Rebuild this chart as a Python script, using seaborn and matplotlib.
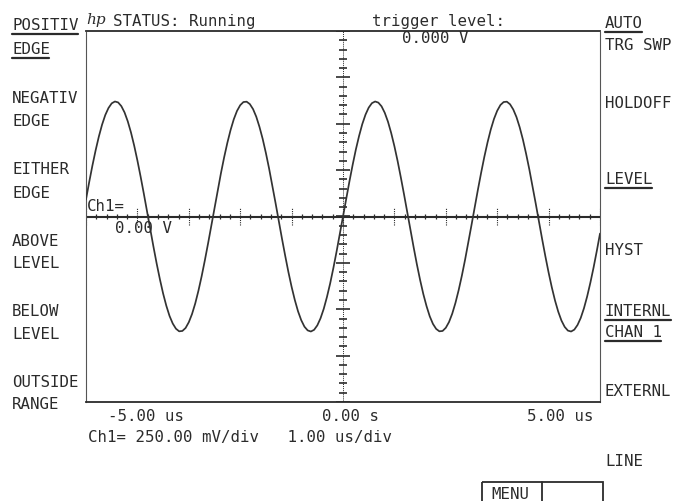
import numpy as np
import pandas as pd
import matplotlib
matplotlib.use("Agg")
import matplotlib.pyplot as plt
from matplotlib.patches import Rectangle
import seaborn as sns

# --- data ---
# Ch1 trace, sampled every 0.0625 us from -5 us to +5 us (volts)
sample_step_us = 0.0625
t_us = np.arange(-80, 81) * sample_step_us
ch1_v = [0.092, 0.186, 0.275, 0.357, 0.431, 0.495, 0.547, 0.585, 0.610, 0.620,
         0.615, 0.595, 0.561, 0.513, 0.453, 0.382, 0.302, 0.215, 0.123, 0.027,
         -0.069, -0.163, -0.254, -0.338, -0.415, -0.481, -0.536, -0.577, -0.605, -0.619,
         -0.617, -0.601, -0.570, -0.526, -0.469, -0.400, -0.322, -0.236, -0.145, -0.050,
         0.046, 0.141, 0.233, 0.319, 0.397, 0.466, 0.524, 0.569, 0.600, 0.617,
         0.619, 0.606, 0.579, 0.538, 0.483, 0.418, 0.342, 0.258, 0.167, 0.073,
         -0.023, -0.119, -0.211, -0.299, -0.379, -0.450, -0.511, -0.559, -0.594, -0.614,
         -0.620, -0.611, -0.587, -0.549, -0.498, -0.434, -0.361, -0.278, -0.189, -0.096,
         0.000,
         0.096, 0.189, 0.278, 0.361, 0.434, 0.498, 0.549, 0.587, 0.611, 0.620,
         0.614, 0.594, 0.559, 0.511, 0.450, 0.379, 0.299, 0.211, 0.119, 0.023,
         -0.073, -0.167, -0.258, -0.342, -0.418, -0.483, -0.538, -0.579, -0.606, -0.619,
         -0.617, -0.600, -0.569, -0.524, -0.466, -0.397, -0.319, -0.233, -0.141, -0.046,
         0.050, 0.145, 0.236, 0.322, 0.400, 0.469, 0.526, 0.570, 0.601, 0.617,
         0.619, 0.605, 0.577, 0.536, 0.481, 0.415, 0.338, 0.254, 0.163, 0.069,
         -0.027, -0.123, -0.215, -0.302, -0.382, -0.453, -0.513, -0.561, -0.595, -0.615,
         -0.620, -0.610, -0.585, -0.547, -0.495, -0.431, -0.357, -0.275, -0.186, -0.092]

volts_per_div = 0.25
us_per_div = 1.0
x_ticklabels = ["-5.00 us", "0.00 s", "5.00 us"]
status_text = "STATUS: Running"
trigger_title = "trigger level:"
trigger_value = "0.000 V"
ch1_ref = ["Ch1=", "0.00 V"]
scale_text = "Ch1= 250.00 mV/div   1.00 us/div"

left_keys = ["POSITIV", "EDGE", "NEGATIV", "EDGE", "EITHER", "EDGE",
             "ABOVE", "LEVEL", "BELOW", "LEVEL", "OUTSIDE", "RANGE"]
right_keys = ["AUTO", "TRG SWP", "HOLDOFF", "LEVEL", "HYST",
              "INTERNL", "CHAN 1", "EXTERNL", "LINE"]
left_selected = [0, 1]          # underlined soft keys on the left
right_selected = [0, 3, 5, 6]   # underlined soft keys on the right

df = pd.DataFrame({"t": t_us, "v": ch1_v})

# --- style ---
sns.set_style("white")
plt.rcParams["font.family"] = ["DejaVu Sans Mono", "DejaVu Sans"]
ink = "#2b2b2b"
fs = 11.3

W, H = 673, 502
fig = plt.figure(figsize=(W / 100, H / 100), dpi=100)

# screen area in pixels: x 86..600, y 32..403
left, right, top, bottom = 86, 600, 32, 403
ax = fig.add_axes([left / W, 1 - bottom / H, (right - left) / W, (bottom - top) / H])
ax.set_xlim(-5 * us_per_div, 5 * us_per_div)
ax.set_ylim(-4 * volts_per_div, 4 * volts_per_div)

sns.lineplot(data=df, x="t", y="v", ax=ax, color="#333333", linewidth=1.25, zorder=3)

# graticule: centre cross with tick marks
ax.axhline(0, color=ink, lw=1.5, zorder=2)
ax.axvline(0, color=ink, lw=0.7, ls=(0, (1, 1)), zorder=2)
yt = np.arange(-4, 4.01, 0.2) * volts_per_div
major_y = np.isclose(np.round(yt / volts_per_div) * volts_per_div, yt)
ax.hlines(yt[~major_y], -0.07, 0.07, color=ink, lw=1.2, zorder=2)
ax.hlines(yt[major_y], -0.14, 0.14, color=ink, lw=1.2, zorder=2)
xt = np.arange(-5, 5.01, 0.2) * us_per_div
major_x = np.isclose(np.round(xt / us_per_div) * us_per_div, xt)
ax.vlines(xt[~major_x], -0.015, 0.015, color=ink, lw=0.9, zorder=2)
ax.vlines(xt[major_x], -0.045, 0.045, color=ink, lw=0.8, ls=(0, (1, 1)), zorder=2)

ax.set_xticks([])
ax.set_yticks([])
ax.set_xlabel("")
ax.set_ylabel("")
for side in ["top", "bottom"]:
    ax.spines[side].set_color(ink)
    ax.spines[side].set_linewidth(1.3)
for side in ["left", "right"]:
    ax.spines[side].set_color("#555555")
    ax.spines[side].set_linewidth(0.8)
    ax.spines[side].set_linestyle((0, (1, 1)))

# overlay in pixel coordinates for the screen annotations
ov = fig.add_axes([0, 0, 1, 1], zorder=5)
ov.set_xlim(0, W)
ov.set_ylim(H, 0)
ov.axis("off")
ov.patch.set_alpha(0)

char_w = 9.5


def label(x, yc, s, underline=False, **kw):
    ov.text(x, yc + 6, s, fontsize=fs, color=ink, va="baseline", ha="left", **kw)
    if underline:
        ov.plot([x, x + len(s) * char_w - 1], [yc + 11, yc + 11], color=ink, lw=1.6)


left_y = [24, 48, 97, 120, 168, 192, 240, 262, 310, 333, 381, 403]
for i, (s, y) in enumerate(zip(left_keys, left_y)):
    label(12, y, s, underline=(i in left_selected))

right_y = [22, 44, 102, 178, 249, 310, 331, 390, 460]
for i, (s, y) in enumerate(zip(right_keys, right_y)):
    label(605, y, s, underline=(i in right_selected))

# top line
ov.text(86, 24, "hp", fontsize=11, color=ink, style="italic", family="DejaVu Serif",
        va="baseline")
label(113, 20, status_text)
label(372, 20, trigger_title)
label(402, 37, trigger_value)

# Ch1 reference marker
label(87, 205, ch1_ref[0])
label(115, 227, ch1_ref[1])

# time labels and scale line
label(108, 415, x_ticklabels[0])
label(322, 415, x_ticklabels[1])
label(527, 415, x_ticklabels[2])
label(88, 436, scale_text)

# MENU box at bottom
ov.add_patch(Rectangle((482, 483), 121, 30, fill=False, edgecolor=ink, lw=1.3))
ov.plot([542, 542], [483, 502], color=ink, lw=1.3)
label(491, 493, "MENU")

fig.savefig("out.png", dpi=100)
